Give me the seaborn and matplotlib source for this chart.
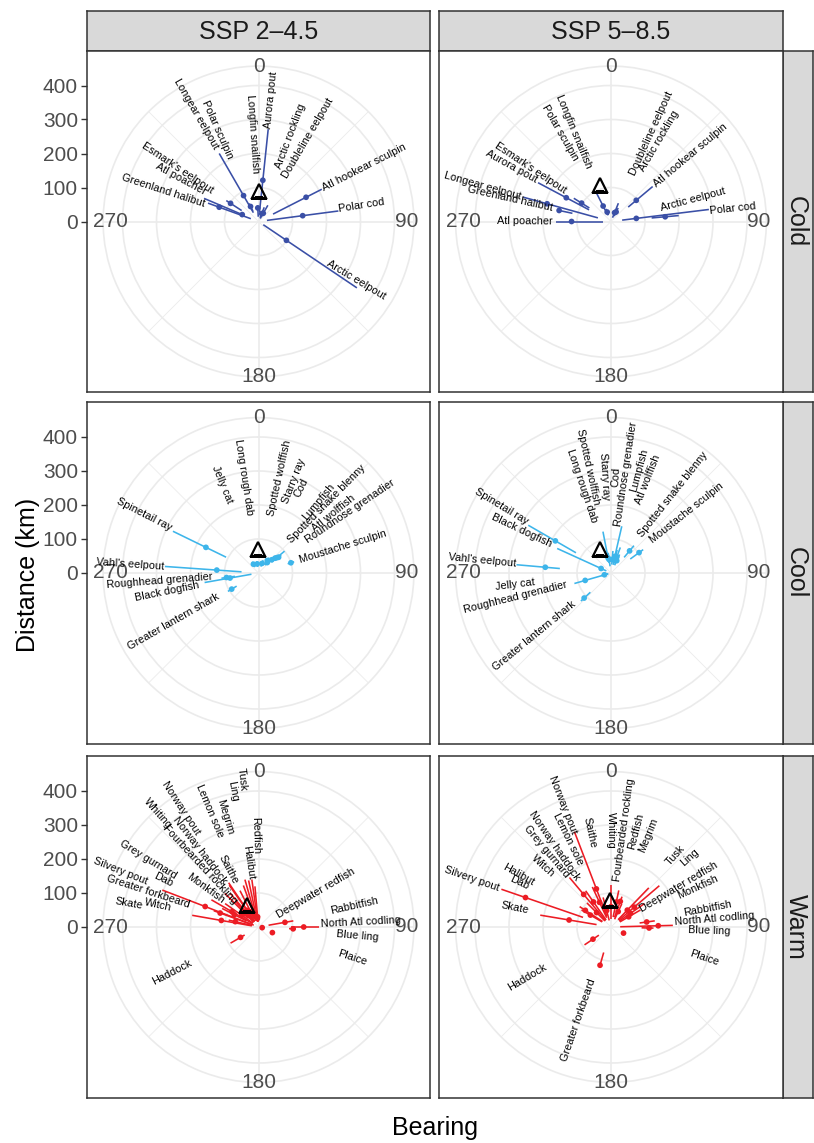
import numpy as np
import matplotlib
matplotlib.use("Agg")
import matplotlib.pyplot as plt
import seaborn as sns

sns.set_theme(style="white")
plt.rcParams["font.family"] = ["Liberation Sans", "DejaVu Sans"]

# ---------------- data ----------------
scenarios = ["SSP 2\u20134.5", "SSP 5\u20138.5"]
groups = ["Cold", "Cool", "Warm"]
group_colors = ["#3A4FA6", "#3DB5EA", "#EC1C24"]
r_breaks = [0, 100, 200, 300, 400]
theta_breaks = [0, 90, 180, 270]
theta_minor = [45, 135, 225, 315]

# mean shift (triangle) per panel, order: Cold245, Cold585, Cool245, Cool585, Warm245, Warm585
mean_bearing = [0, 343, 358, 335, 332, 358]
mean_dist = [91, 111, 72, 79, 74, 80]

# Cold, SSP 2-4.5
cold_245_species = ["Aurora pout", "Longfin snailfish", "Arctic rockling", "Doubleline eelpout",
                    "Atl hookear sculpin", "Polar cod", "Arctic eelpout", "Greenland halibut",
                    "Atl poacher", "Esmark's eelpout", "Longear eelpout", "Polar sculpin"]
cold_245_bearing = [6, 357, 22, 30, 63, 82.5, 124, 290, 293, 303, 330, 332]
cold_245_lo = [28, 14, 12, 10, 48, 25, 17, 24, 45, 59, 30, 35]
cold_245_est = [122, 40, 25, 28, 157, 131, 99, 123, 52, 98, 88, 50]
cold_245_hi = [273, 48, 45, 55, 209, 237, 349, 158, 174, 113, 231, 60]
cold_245_lab_bearing = [6, 356, 20.7, 30.5, 63, 81, 121, 288, 298.7, 303.7, 330, 336]
cold_245_lab_r = [360, 257, 268, 285, 350, 307, 335, 293, 262, 286, 364, 296]

# Cold, SSP 5-8.5
cold_585_species = ["Polar cod", "Arctic eelpout", "Atl hookear sculpin", "Doubleline eelpout",
                    "Arctic rockling", "Longfin snailfish", "Polar sculpin", "Esmark's eelpout",
                    "Aurora pout", "Longear eelpout", "Greenland halibut", "Atl poacher"]
cold_585_bearing = [83, 85, 50, 22, 28, 333, 338, 302, 298, 285.5, 282, 270]
cold_585_lo = [33, 120, 66, 12, 18, 21, 20, 75, 73, 40, 116, 23]
cold_585_est = [75, 160, 97, 28, 32, 51, 30, 102, 149, 195, 156, 116]
cold_585_hi = [290, 200, 160, 58, 45, 94, 40, 129, 243, 268, 162, 163]
cold_585_lab_bearing = [84, 75, 50, 24.5, 30.5, 337.5, 330, 303.7, 298.8, 285.7, 282.6, 270.5]
cold_585_lab_r = [360, 248, 304, 286, 276, 288, 300, 286, 334, 391, 303, 253]

# Cool, SSP 2-4.5
cool_245_species = ["Jelly cat", "Long rough dab", "Spotted wolffish", "Starry ray", "Cod",
                    "Lumpfish", "Spotted snake blenny", "Atl wolffish", "Roundnose grenadier",
                    "Moustache sculpin", "Spinetail ray", "Vahl's eelpout", "Roughhead grenadier",
                    "Black dogfish", "Greater lantern shark"]
cool_245_bearing = [330, 352, 20, 35, 45, 48, 50, 40, 52, 72.5, 296, 274, 262, 260, 239]
cool_245_lo = [20, 18, 20, 30, 40, 50, 50, 30, 60, 90, 106, 50, 70, 21, 75]
cool_245_est = [30, 27, 30, 45, 55, 65, 70, 40, 75, 100, 172, 123, 95, 85, 92]
cool_245_hi = [38, 35, 40, 55, 70, 80, 100, 50, 85, 110, 280, 276, 110, 161, 105]
cool_245_lab_bearing = [337.6, 351.3, 12.5, 21.3, 26.4, 40, 44.7, 51.2, 56, 72.7, 297.2, 274,
                        265.5, 258.5, 240.2]
cool_245_lab_r = [283, 285, 286, 290, 281, 273, 284, 282, 326, 259, 377, 379, 291, 276, 288]

# Cool, SSP 5-8.5
cool_585_species = ["Spinetail ray", "Black dogfish", "Vahl's eelpout", "Jelly cat",
                    "Roughhead grenadier", "Greater lantern shark", "Long rough dab",
                    "Spotted wolffish", "Starry ray", "Cod", "Roundnose grenadier", "Lumpfish",
                    "Atl wolffish", "Spotted snake blenny", "Moustache sculpin"]
cool_585_bearing = [300, 294.5, 275, 255, 254, 227, 349, 352, 5, 15, 13, 20, 25, 40, 54]
cool_585_lo = [119, 15, 151, 8, 9, 83, 30, 20, 25, 25, 30, 30, 25, 60, 70]
cool_585_est = [189, 32, 194, 20, 79, 108, 45, 40, 40, 45, 50, 50, 40, 85, 102]
cool_585_hi = [281, 174, 279, 30, 112, 121, 124, 60, 65, 70, 141, 80, 60, 105, 117]
cool_585_lab_bearing = [301.3, 295.4, 275.6, 262.9, 256, 230.7, 341.5, 347.7, 356.4, 3, 8.6,
                        15.2, 21.6, 38.4, 51.7]
cool_585_lab_r = [376, 291, 380, 285, 290, 292, 271, 319, 286, 282, 295, 313, 296, 293, 285]

# Warm, SSP 2-4.5
warm_245_species = ["Tusk", "Ling", "Lemon sole", "Megrim", "Norway pout", "Norway haddock",
                    "Whiting", "Fourbearded rockling", "Redfish", "Halibut", "Saithe", "Monkfish",
                    "Grey gurnard", "Dab", "Silvery pout", "Greater forkbeard", "Skate", "Witch",
                    "Haddock", "Deepwater redfish", "Rabbitfish", "North Atl codling",
                    "Blue ling", "Plaice"]
warm_245_bearing = [348, 344, 333, 340, 325, 320, 318, 315, 352, 355, 326, 305, 300, 297, 291,
                    280, 283, 290, 240, 80, 100, 90, 93, 112]
warm_245_lo = [20, 20, 25, 20, 20, 20, 20, 20, 15, 15, 20, 20, 20, 40, 15, 20, 20, 30, 47, 30,
               11, 95, 90, 44]
warm_245_est = [30, 35, 50, 40, 60, 50, 45, 55, 25, 30, 55, 60, 90, 80, 168, 111, 70, 120, 61,
                79, 11, 133, 102, 44]
warm_245_hi = [140, 145, 120, 130, 150, 130, 100, 140, 141, 120, 157, 120, 160, 120, 303, 198,
               90, 140, 95, 104, 11, 178, 110, 44]
warm_245_lab_bearing = [353.7, 349.3, 337.2, 343.2, 326.9, 322.4, 318.6, 317, 358.3, 351.6,
                        332.4, 306, 301.5, 296.6, 291.9, 288, 280.1, 282.4, 242.6, 59.6, 77.4,
                        87.2, 94.9, 108]
warm_245_lab_r = [438, 405, 369, 339, 418, 284, 446, 253, 270, 192, 190, 192, 379, 313, 437,
                  340, 386, 302, 287, 194, 288, 302, 291, 291]

# Warm, SSP 5-8.5
warm_585_species = ["Norway pout", "Lemon sole", "Saithe", "Whiting", "Fourbearded rockling",
                    "Redfish", "Megrim", "Tusk", "Ling", "Deepwater redfish", "Monkfish",
                    "Rabbitfish", "North Atl codling", "Blue ling", "Plaice",
                    "Greater forkbeard", "Haddock", "Skate", "Silvery pout", "Halibut", "Dab",
                    "Witch", "Grey gurnard", "Norway haddock"]
warm_585_bearing = [339, 335, 345, 0, 12, 20, 25, 44, 49.5, 55, 60, 82, 88.5, 91.5, 116, 196,
                    236, 279.5, 289, 300, 303, 315, 320, 325]
warm_585_lo = [34, 30, 20, 25, 30, 30, 25, 30, 30, 30, 30, 85, 27, 90, 41, 78, 43, 43, 87, 30,
               30, 25, 25, 25]
warm_585_est = [120, 80, 50, 60, 75, 80, 50, 69, 90, 70, 60, 106, 139, 112, 41, 117, 64, 125,
                266, 70, 90, 60, 125, 90]
warm_585_hi = [300, 130, 90, 125, 110, 95, 75, 160, 187, 120, 100, 130, 182, 125, 41, 117, 94,
               211, 341, 100, 110, 100, 190, 130]
warm_585_lab_bearing = [338.6, 334, 347.6, 359.8, 7.8, 14.8, 22, 42, 48.5, 59.3, 65.1, 79.4,
                        85.3, 92, 108.6, 199.2, 239.3, 281.2, 289.2, 299.3, 295.9, 312.3, 319.9,
                        325.3]
warm_585_lab_r = [387, 289, 285, 285, 288, 290, 291, 283, 310, 231, 280, 289, 305, 289, 289,
                  291, 288, 287, 435, 313, 298, 268, 292, 292]

panels = [
    (cold_245_species, cold_245_bearing, cold_245_lo, cold_245_est, cold_245_hi, cold_245_lab_bearing, cold_245_lab_r),
    (cold_585_species, cold_585_bearing, cold_585_lo, cold_585_est, cold_585_hi, cold_585_lab_bearing, cold_585_lab_r),
    (cool_245_species, cool_245_bearing, cool_245_lo, cool_245_est, cool_245_hi, cool_245_lab_bearing, cool_245_lab_r),
    (cool_585_species, cool_585_bearing, cool_585_lo, cool_585_est, cool_585_hi, cool_585_lab_bearing, cool_585_lab_r),
    (warm_245_species, warm_245_bearing, warm_245_lo, warm_245_est, warm_245_hi, warm_245_lab_bearing, warm_245_lab_r),
    (warm_585_species, warm_585_bearing, warm_585_lo, warm_585_est, warm_585_hi, warm_585_lab_bearing, warm_585_lab_r),
]

# ---------------- layout ----------------
W, H, DPI = 814, 1143, 100
fig = plt.figure(figsize=(W / DPI, H / DPI), dpi=DPI)
fig.patch.set_facecolor("white")

def px_axes(x0, y0, x1, y1, **kw):
    return fig.add_axes([x0 / W, 1 - y1 / H, (x1 - x0) / W, (y1 - y0) / H], **kw)

cols = [(87, 430), (439, 783)]
rows = [(51, 392), (402, 744), (756, 1098)]
strip_top = (11, 51)
strip_right = (783, 813)
PXKM = 0.34          # pixels per km
RMAX = 457           # outer ring (km)
GRID = "#EBEBEB"
BORDER = "#333333"
TXT_GRAY = "#4D4D4D"

for ci, (x0, x1) in enumerate(cols):
    st = px_axes(x0, strip_top[0], x1, strip_top[1])
    st.set_facecolor("#D9D9D9")
    st.set_xticks([]); st.set_yticks([])
    for s in st.spines.values():
        s.set_color(BORDER); s.set_linewidth(1.1)
    st.text(0.5, 0.47, scenarios[ci], transform=st.transAxes, ha="center", va="center",
            fontsize=18, color="#1A1A1A")

for ri, (y0, y1) in enumerate(rows):
    st = px_axes(strip_right[0], y0, strip_right[1], y1)
    st.set_facecolor("#D9D9D9")
    st.set_xticks([]); st.set_yticks([])
    for s in st.spines.values():
        s.set_color(BORDER); s.set_linewidth(1.1)
    st.text(0.42, 0.5, groups[ri], transform=st.transAxes, ha="center", va="center",
            rotation=-90, fontsize=18, color="#1A1A1A")

def label_rotation(b):
    b = b % 360
    return 90 - b if b < 180 else 270 - b

for ri, (y0, y1) in enumerate(rows):
    for ci, (x0, x1) in enumerate(cols):
        k = ri * 2 + ci
        color = group_colors[ri]
        names, bearing, lo, est, hi, lab_b, lab_r = panels[k]
        w, h = x1 - x0, y1 - y0
        cx, cy = (x0 + x1) / 2, (y0 + y1) / 2

        # frame axes carrying the panel border and the radial (distance) axis
        fr = px_axes(x0, y0, x1, y1)
        fr.set_facecolor("white")
        fr.set_xlim(-w / 2 / PXKM, w / 2 / PXKM)
        fr.set_ylim(-h / 2 / PXKM, h / 2 / PXKM)
        fr.set_xticks([])
        for s in fr.spines.values():
            s.set_color(BORDER); s.set_linewidth(1.1)
        if ci == 0:
            fr.set_yticks(r_breaks)
            fr.set_yticklabels([str(v) for v in r_breaks], fontsize=15, color=TXT_GRAY)
            fr.tick_params(axis="y", length=4.5, width=1.0, color=BORDER, pad=2, left=True)
        else:
            fr.set_yticks([])

        # polar axes
        R = RMAX * PXKM
        pax = px_axes(cx - R, cy - R, cx + R, cy + R, projection="polar")
        pax.set_facecolor("none")
        pax.set_theta_zero_location("N")
        pax.set_theta_direction(-1)
        pax.set_rlim(0, RMAX)
        pax.set_rgrids([100, 200, 300, 400], labels=[""] * 4)
        pax.set_xticks(np.radians(theta_breaks))
        pax.set_xticklabels([])
        pax.set_xticks(np.radians(theta_minor), minor=True)
        pax.xaxis.grid(True, which="major", color=GRID, lw=1.2)
        pax.xaxis.grid(True, which="minor", color=GRID, lw=0.6)
        pax.yaxis.grid(True, color=GRID, lw=1.2)
        pax.spines["polar"].set_color(GRID)
        pax.spines["polar"].set_linewidth(1.2)
        pax.tick_params(axis="both", length=0)
        pax.set_axisbelow(True)

        for tb in theta_breaks:
            r_lab = 457 - 22 * abs(np.sin(np.radians(tb)))
            pax.text(np.radians(tb), r_lab, str(tb), ha="center", va="center", fontsize=15,
                     color=TXT_GRAY, clip_on=False)

        th = np.radians(bearing)
        pax.vlines(th, lo, hi, color=color, lw=1.15, zorder=3)
        sns.scatterplot(x=th, y=est, ax=pax, color=color, s=17, edgecolor="none",
                        legend=False, zorder=4)
        pax.plot(np.radians(mean_bearing[k]), mean_dist[k], marker="^", ms=9.5,
                 mfc="none", mec="black", mew=1.6, zorder=5)

        for nm, b, r in zip(names, lab_b, lab_r):
            pax.text(np.radians(b), r, nm, rotation=label_rotation(b), rotation_mode="anchor",
                     ha="center", va="center", fontsize=7.8, color="black", clip_on=False,
                     zorder=6)
        pax.set_xlabel(""); pax.set_ylabel("")
        pax.set_rlim(0, RMAX)

fig.text(28 / W, 1 - 575 / H, "Distance (km)", rotation=90, ha="center", va="center",
         fontsize=18, color="black")
fig.text(435 / W, 1 - 1128 / H, "Bearing", ha="center", va="center", fontsize=18,
         color="black")

fig.savefig("out.png", dpi=DPI, facecolor="white")
